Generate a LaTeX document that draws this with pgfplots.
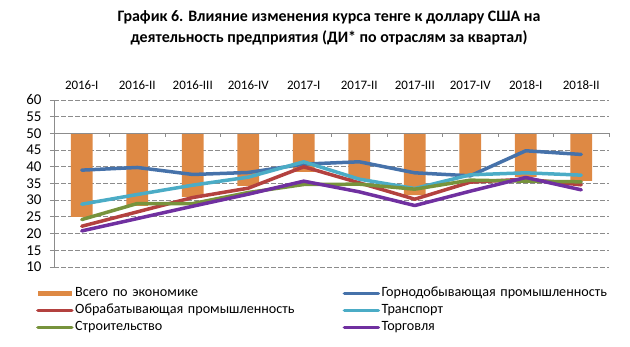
\documentclass[border=0pt]{standalone}
\usepackage{fontspec}
\setmainfont{Carlito}
\usepackage{pgfplots}
\pgfplotsset{compat=1.18}
\definecolor{cbar}{HTML}{DE8944}
\definecolor{cblue}{HTML}{4672AA}
\definecolor{cred}{HTML}{B3413F}
\definecolor{clblue}{HTML}{4BACC6}
\definecolor{cgreen}{HTML}{77933C}
\definecolor{cpurple}{HTML}{7030A0}
\definecolor{cgrid}{HTML}{8C8C8C}
\begin{document}
\begin{tikzpicture}
\useasboundingbox (0,0) rectangle (630bp,347bp);
\node[font=\bfseries\fontsize{16}{20.5}\selectfont, align=center] at (329bp,319bp)
  {График 6. Влияние изменения курса тенге к доллару США на\\деятельность предприятия (ДИ* по отраслям за квартал)};
\begin{axis}[
  at={(54bp,80bp)}, anchor=south west,
  scale only axis, width=555bp, height=167bp,
  xmin=-0.5, xmax=9.5, ymin=10, ymax=60,
  axis x line*=top, axis y line*=left,
  x axis line style={draw=none},
  y axis line style={cgrid, line width=0.8bp},
  xtick={0,...,9},
  xticklabels={2016-I,2016-II,2016-III,2016-IV,2017-I,2017-II,2017-III,2017-IV,2018-I,2018-II},
  x tick style={draw=none},
  xticklabel style={font=\fontsize{13}{15}\selectfont, yshift=3bp},
  ytick={10,15,...,60},
  y tick style={cgrid, line width=0.8bp},
  tick align=outside, major tick length=4bp,
  yticklabel style={font=\fontsize{15}{17}\selectfont, xshift=-5bp},
  /pgf/number format/assume math mode=true,
  ymajorgrids,
  major grid style={cgrid, line width=0.8bp, dash pattern=on 4.5bp off 2.5bp},
  clip=false,
  legend columns=2,
  legend style={at={(-0.0325,-0.11)}, anchor=north west, draw=none, fill=none,
    inner sep=0pt, column sep=0pt, row sep=1.5bp,
    font=\fontsize{14.2}{16}\selectfont,
    nodes={inner sep=1.5bp, text height=9.5bp, text depth=3bp},
    /tikz/every even column/.append style={text width=266bp}},
  legend cell align=left,
]
\addplot[ybar, stack plots=y, bar shift=0pt, bar width=0.39, draw=none, fill=none, forget plot]
  coordinates {(0,25) (1,28.3) (2,31) (3,34.3) (4,38.5) (5,36.3) (6,31.5) (7,37.5) (8,37) (9,35.8)};
\addplot[ybar, stack plots=y, bar shift=0pt, bar width=0.39, draw=none, fill=cbar,
  legend image code/.code={\fill[cbar] (0bp,-2.8bp) rectangle (34bp,2.8bp);}]
  coordinates {(0,25) (1,21.7) (2,19) (3,15.7) (4,11.5) (5,13.7) (6,18.5) (7,12.5) (8,13) (9,14.2)};
\addlegendentry{Всего по экономике}
\pgfplotsset{every axis plot/.append style={line width=3.5bp, line join=round, line cap=round},
  legend image code/.code={\draw (0bp,0bp) -- (34bp,0bp);}}
\addplot[cblue, no marks, stack plots=false]
  coordinates {(0,39) (1,39.8) (2,37.7) (3,38.3) (4,40.8) (5,41.5) (6,38.2) (7,37.3) (8,44.8) (9,43.7)};
\addlegendentry{Горнодобывающая промышленность}
\addplot[cred, no marks, stack plots=false]
  coordinates {(0,22.2) (1,26.5) (2,30.8) (3,33.6) (4,40) (5,35.2) (6,30.3) (7,35.4) (8,36.3) (9,34.6)};
\addlegendentry{Обрабатывающая промышленность}
\addplot[clblue, no marks, stack plots=false]
  coordinates {(0,28.8) (1,31.7) (2,34.5) (3,36.9) (4,41.5) (5,36.3) (6,33.5) (7,37.6) (8,38.2) (9,37.5)};
\addlegendentry{Транспорт}
\addplot[cgreen, no marks, stack plots=false]
  coordinates {(0,24.2) (1,29) (2,29) (3,32.3) (4,34.7) (5,34.8) (6,33.3) (7,36) (8,35.7) (9,35.5)};
\addlegendentry{Строительство}
\addplot[cpurple, no marks, stack plots=false]
  coordinates {(0,20.8) (1,24.5) (2,28.2) (3,31.8) (4,35.7) (5,32.5) (6,28.4) (7,32.7) (8,36.8) (9,33.1)};
\addlegendentry{Торговля}
\draw[cgrid, line width=0.8bp] (axis cs:-0.5,50) -- (axis cs:9.5,50)
  (axis cs:0.5,50) -- (axis cs:0.5,48.8) (axis cs:1.5,50) -- (axis cs:1.5,48.8)
  (axis cs:2.5,50) -- (axis cs:2.5,48.8) (axis cs:3.5,50) -- (axis cs:3.5,48.8)
  (axis cs:4.5,50) -- (axis cs:4.5,48.8) (axis cs:5.5,50) -- (axis cs:5.5,48.8)
  (axis cs:6.5,50) -- (axis cs:6.5,48.8) (axis cs:7.5,50) -- (axis cs:7.5,48.8)
  (axis cs:8.5,50) -- (axis cs:8.5,48.8) (axis cs:9.5,50) -- (axis cs:9.5,48.8);
\end{axis}
\end{tikzpicture}
\end{document}
